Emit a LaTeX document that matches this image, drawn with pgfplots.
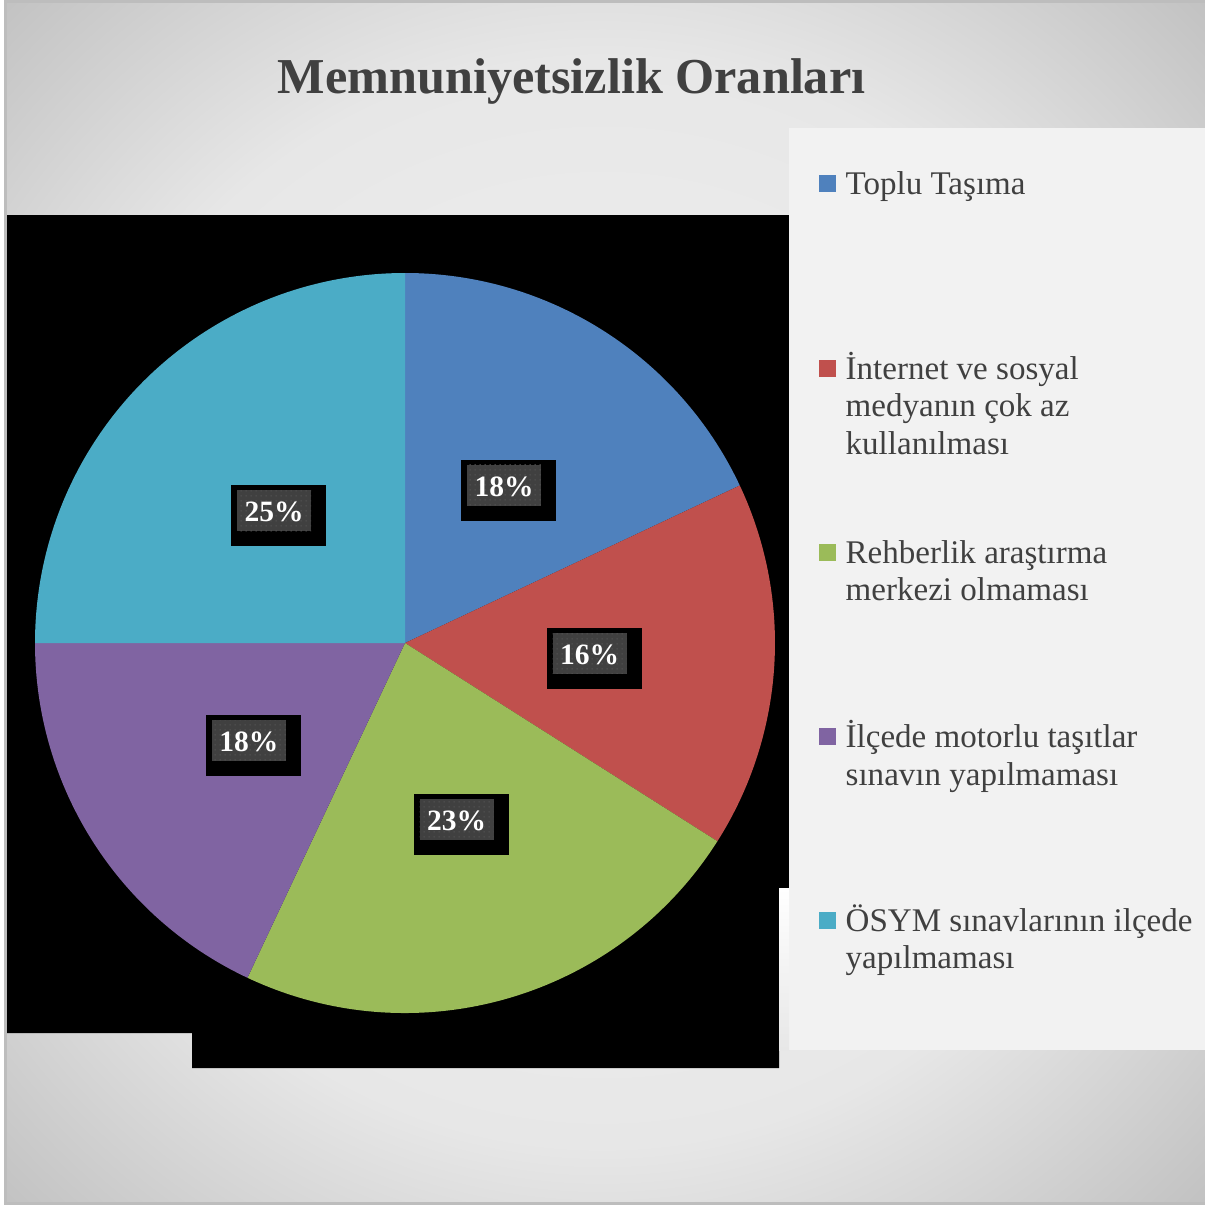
\documentclass[border=0pt]{standalone}
\usepackage{pgfplots}
\pgfplotsset{compat=1.18}
\usepackage{pgfplotstable}
\usepackage{fontspec}
\setmainfont{Liberation Serif}
\usetikzlibrary{patterns}

\definecolor{pie0}{HTML}{4F81BD}
\definecolor{pie1}{HTML}{C0504D}
\definecolor{pie2}{HTML}{9BBB59}
\definecolor{pie3}{HTML}{8064A2}
\definecolor{pie4}{HTML}{4BACC6}
\definecolor{txt}{HTML}{404040}
\definecolor{lbl}{HTML}{404040}
\definecolor{lbldot}{HTML}{505050}
\definecolor{legbg}{HTML}{F2F2F2}
\definecolor{bgA}{HTML}{F3F3F3}
\definecolor{bgB}{HTML}{E7E7E7}
\definecolor{bgC}{HTML}{C2C2C2}
\definecolor{edge}{HTML}{BDBDBD}

\pgfdeclareradialshading{bgshade}{\pgfpoint{0bp}{0bp}}{color(0bp)=(bgA); color(16bp)=(bgB); color(25bp)=(bgC); color(50bp)=(bgC)}

\pgfdeclarepatternformonly{finedots}{\pgfpointorigin}{\pgfqpoint{1.45pt}{1.45pt}}{\pgfqpoint{1.45pt}{1.45pt}}{%
  \pgfpathcircle{\pgfqpoint{0.72pt}{0.72pt}}{0.3pt}\pgfusepath{fill}}

% values (percent) in order: Toplu Tasima, Internet, Rehberlik, Ilcede, OSYM
\pgfplotstableread{
value
18
16
23
18
25
}\piedata

\newcommand\cumangle{90}
\newcommand\computeslice[1]{%
  \pgfplotstablegetelem{#1}{value}\of\piedata%
  \let\tmpv\pgfplotsretval%
  \expandafter\xdef\csname sStart#1\endcsname{\cumangle}%
  \pgfmathsetmacro{\tmpe}{\cumangle-\tmpv*3.6}%
  \expandafter\xdef\csname sEnd#1\endcsname{\tmpe}%
  \pgfmathsetmacro{\tmpm}{(\cumangle+\tmpe)/2}%
  \expandafter\xdef\csname sMid#1\endcsname{\tmpm}%
  \expandafter\xdef\csname sVal#1\endcsname{\tmpv}%
  \xdef\cumangle{\tmpe}%
}

\newcommand\legfont{\fontsize{9.4}{11.2}\selectfont}

\begin{document}
\begin{tikzpicture}
\computeslice{0}\computeslice{1}\computeslice{2}\computeslice{3}\computeslice{4}%
\begin{scope}[x=0.1mm,y=-0.1mm]
  \fill[white] (0,0) rectangle (1205,1205);
  \useasboundingbox (0,0) rectangle (1205,1205);
  \begin{scope}
    \clip (5,1) rectangle (1205,1204);
    \shade[shading=bgshade] (-248,-248) rectangle (1452,1452);
  \end{scope}
  \draw[edge, line width=0.25mm] (1205,1.5) -- (5.5,1.5) -- (5.5,1203.5) -- (1205,1203.5);
  % title
  \node[anchor=base, inner sep=0, text=txt, font=\fontsize{14.3}{17}\selectfont\bfseries] at (571.5,93) {Memnuniyetsizlik Oranları};
  % plot area (black)
  \fill[black] (7,215) -- (789,215) -- (789,888) -- (779,888) -- (779,1068) -- (192,1068) -- (192,1033) -- (7,1033) -- cycle;
  % legend area
  \fill[legbg] (789,128) rectangle (1205,1050);
  \shade[top color=white, bottom color=bgB] (779,888) rectangle (789,1050);
  % legend keys
  \fill[pie0] (819,175) rectangle (836,192);
  \fill[pie1] (819,360) rectangle (836,377);
  \fill[pie2] (819,544) rectangle (836,561);
  \fill[pie3] (819,728) rectangle (836,745);
  \fill[pie4] (819,912) rectangle (836,929);
  \begin{scope}[every node/.style={anchor=base west, inner sep=0, text=txt, font=\legfont}]
    \node at (845,194) {Toplu Taşıma};
    \node at (845,379) {İnternet ve sosyal};
    \node at (845,416.5) {medyanın çok az};
    \node at (845,454) {kullanılması};
    \node at (845,563) {Rehberlik araştırma};
    \node at (845,600.5) {merkezi olmaması};
    \node at (845,747) {İlçede motorlu taşıtlar};
    \node at (845,785) {sınavın yapılmaması};
    \node at (845,931) {ÖSYM sınavlarının ilçede};
    \node at (845,968) {yapılmaması};
  \end{scope}
\end{scope}
\begin{axis}[at={(40.5mm,-64.3mm)}, anchor=center, hide axis, scale only axis,
  width=74mm, height=74mm, xmin=-1, xmax=1, ymin=-1, ymax=1, clip=false]
\pgfplotsinvokeforeach{0,...,4}{
  \fill[pie#1] (axis cs:0,0) -- ++(\csname sStart#1\endcsname:37mm)
     arc[start angle=\csname sStart#1\endcsname, end angle=\csname sEnd#1\endcsname, radius=37mm] -- cycle;
}
\pgfplotsinvokeforeach{0,...,4}{
  \node[fill=black, minimum width=9.5mm, minimum height=6.1mm, inner sep=0]
     at ([shift={(\csname sMid#1\endcsname:18.5mm)}, xshift=0.45mm, yshift=-0.35mm]axis cs:0,0) {};
  \node[preaction={fill=lbl}, pattern=finedots, pattern color=lbldot, minimum width=7.4mm, minimum height=4.1mm, inner sep=0]
     at ([shift={(\csname sMid#1\endcsname:18.5mm)}, yshift=0.15mm]axis cs:0,0) {};
  \node[text=white, inner sep=0, font=\fontsize{8.4}{10}\selectfont\bfseries]
     at ([shift={(\csname sMid#1\endcsname:18.5mm)}]axis cs:0,0) {\csname sVal#1\endcsname\%};
}
\end{axis}
\end{tikzpicture}
\end{document}
